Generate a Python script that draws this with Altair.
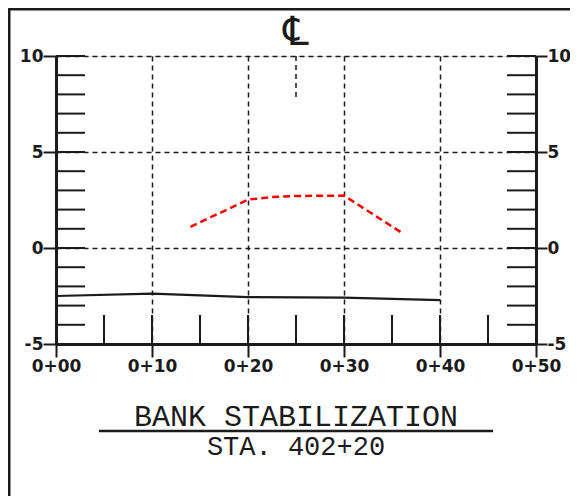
import altair as alt
import pandas as pd

# ---- data ----
ground_sta = [0, 10, 20, 30, 40]
ground_elev = [-2.5, -2.38, -2.56, -2.58, -2.72]

prop_sta = [14, 20, 22.5, 25, 30, 36]
prop_elev = [1.1, 2.52, 2.65, 2.71, 2.73, 0.8]

x_ticks = [0, 10, 20, 30, 40, 50]
x_labels = ["0+00", "0+10", "0+20", "0+30", "0+40", "0+50"]
y_ticks = [-5, 0, 5, 10]
y_labels = ["-5", "0", "5", "10"]
x_minor = [5, 10, 15, 20, 25, 30, 35, 40, 45]
y_minor = [-4, -3, -2, -1, 0, 1, 2, 3, 4, 5, 6, 7, 8, 9, 10]
centerline_sta = [25]

title_text = "BANK STABILIZATION"
subtitle_text = "STA. 402+20"
cl_symbol = "\u2104"

# ---- layout ----
W, H = 480, 288
K = "#1b1b1b"
TICK = 29


def label_expr(vals, labs):
    s = "''"
    for v, l in reversed(list(zip(vals, labs))):
        s = f"datum.value == {v} ? '{l}' : ({s})"
    return s


xs = alt.Scale(domain=[0, 50], nice=False, zero=False)
ys = alt.Scale(domain=[-5, 10], nice=False, zero=False)

lab_font = dict(labelFont="DejaVu Sans", labelFontWeight="bold", labelFontSize=17,
                labelColor=K, labelOverlap=False, labelFlush=False)

x_axis = alt.Axis(orient="bottom", values=x_ticks, labelExpr=label_expr(x_ticks, x_labels),
                  title=None, grid=True, gridDash=[5, 4], gridColor=K, gridWidth=1.5,
                  gridOpacity=1, domainWidth=3, domainColor=K, tickSize=13, tickWidth=2,
                  tickColor=K, labelPadding=1, **lab_font)
y_axis_left = alt.Axis(orient="left", values=y_ticks, labelExpr=label_expr(y_ticks, y_labels),
                       title=None, grid=True, gridDash=[5, 4], gridColor=K, gridWidth=1.5,
                       gridOpacity=1, domainWidth=3, domainColor=K, tickSize=13, tickWidth=2,
                       tickColor=K, labelPadding=0, **lab_font)
y_axis_right = alt.Axis(orient="right", values=y_ticks, labelExpr=label_expr(y_ticks, y_labels),
                        title=None, grid=False, domainWidth=3, domainColor=K, tickSize=11,
                        tickWidth=2, tickColor=K, labelPadding=0, **lab_font)


def X(field):
    return alt.X(field, scale=xs, axis=x_axis)


ground_df = pd.DataFrame({"sta": ground_sta, "elev": ground_elev})
prop_df = pd.DataFrame({"sta": prop_sta, "elev": prop_elev})

ground = alt.Chart(ground_df).mark_line(color=K, strokeWidth=2.2).encode(
    x=X("sta:Q"),
    y=alt.Y("elev:Q", scale=ys, axis=y_axis_left),
)

proposed = alt.Chart(prop_df).mark_line(color="#ff0000", strokeWidth=2.5, strokeDash=[7, 4]).encode(
    x=X("sta:Q"),
    y=alt.Y("elev:Q", scale=ys, axis=y_axis_right),
)

ymin_df = pd.DataFrame({"v": y_minor})
xmin_df = pd.DataFrame({"v": x_minor})

left_ticks = alt.Chart(ymin_df).mark_rule(color=K, strokeWidth=2).encode(
    y=alt.Y("v:Q", scale=ys, axis=None), x=alt.value(0), x2=alt.value(TICK))
right_ticks = alt.Chart(ymin_df).mark_rule(color=K, strokeWidth=2).encode(
    y=alt.Y("v:Q", scale=ys, axis=None), x=alt.value(W), x2=alt.value(W - TICK))
bottom_ticks = alt.Chart(xmin_df).mark_rule(color=K, strokeWidth=2).encode(
    x=X("v:Q"), y=alt.value(H), y2=alt.value(H - TICK))

cl_df = pd.DataFrame({"v": centerline_sta, "t": [cl_symbol]})
cl_line = alt.Chart(cl_df).mark_rule(color=K, strokeWidth=1.5, strokeDash=[5, 4]).encode(
    x=X("v:Q"), y=alt.value(0), y2=alt.value(41))
cl_text = alt.Chart(cl_df).mark_text(font="DejaVu Sans", fontSize=40, color=K,
                                     baseline="middle", align="center").encode(
    x=X("v:Q"), y=alt.value(-23), text="t:N")

title_df = pd.DataFrame({"t": [title_text]})
sub_df = pd.DataFrame({"t": [subtitle_text]})
title = alt.Chart(title_df).mark_text(font="Liberation Mono", fontSize=30, color=K,
                                      baseline="alphabetic", align="center").encode(
    x=alt.value(W / 2), y=alt.value(370), text="t:N")
underline = alt.Chart(title_df).mark_rule(color=K, strokeWidth=2.5).encode(
    x=alt.value(43), x2=alt.value(437), y=alt.value(375))
subtitle = alt.Chart(sub_df).mark_text(font="Liberation Mono", fontSize=27, color=K,
                                       baseline="alphabetic", align="center").encode(
    x=alt.value(W / 2), y=alt.value(399), text="t:N")

frame_top = alt.Chart(title_df).mark_rule(color=K, strokeWidth=3).encode(
    x=alt.value(-48.5), x2=alt.value(530), y=alt.value(-47))
frame_left = alt.Chart(title_df).mark_rule(color=K, strokeWidth=3).encode(
    x=alt.value(-47), y=alt.value(-48.5), y2=alt.value(450))

chart = alt.layer(
    ground, proposed, left_ticks, right_ticks, bottom_ticks, cl_line, cl_text,
    title, underline, subtitle, frame_top, frame_left,
).resolve_axis(y="independent").properties(
    width=W, height=H,
    autosize=alt.AutoSizeParams(type="none"),
    padding={"left": 48, "top": 48, "right": 34, "bottom": 152},
).configure_view(stroke=None).configure(background="white")

chart.save("out.html", embed_options={"renderer": "svg", "actions": False})
